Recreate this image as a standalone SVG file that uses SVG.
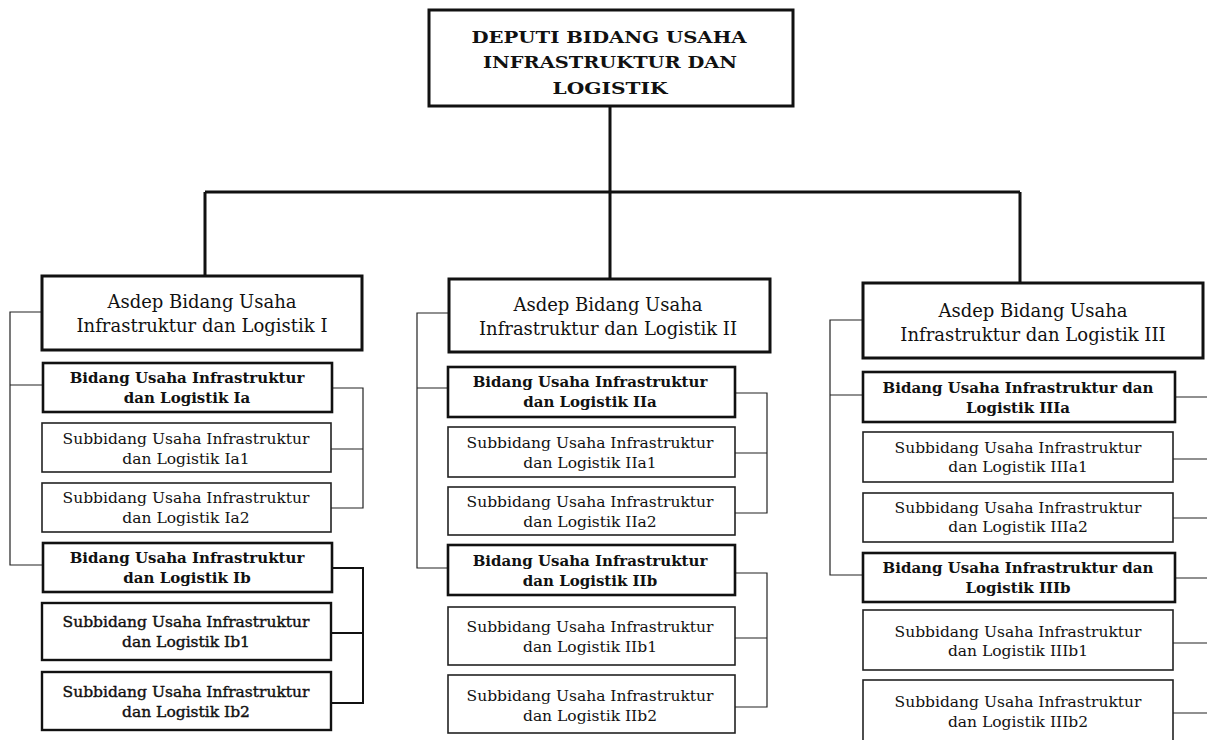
<svg xmlns="http://www.w3.org/2000/svg" width="1207" height="740" viewBox="0 0 1207 740">
<style>
.bg{fill:#fff}
.top{fill:#fff;stroke:#111;stroke-width:3}
.asd{fill:#fff;stroke:#111;stroke-width:3}
.bid{fill:#fff;stroke:#111;stroke-width:2.6}
.sub{fill:#fff;stroke:#222;stroke-width:1.6}
.subb{fill:#fff;stroke:#111;stroke-width:2.4}
text{font-family:"DejaVu Serif","Liberation Serif",serif;fill:#111;text-anchor:middle;dominant-baseline:central}
.t0{font-size:17px;font-weight:bold}
.ta{font-size:18px}
.tb{font-size:15px;font-weight:bold}
.ts{font-size:15.5px}
.tsd{font-size:15.5px;stroke:#111;stroke-width:0.4}
.main{fill:none;stroke:#111;stroke-width:3}
.thin{fill:none;stroke:#222;stroke-width:1.2}
.mid{fill:none;stroke:#111;stroke-width:2}
</style>
<rect class="bg" x="0" y="0" width="1207" height="740"/>
<g id="connectors">
<path class="main" d="M610 106 V192 M205 192 H1020 M205 192 V277 M610 192 V279 M1020 192 V284"/>
<path class="thin" d="M42 312 H10 V565 H43 M10 385 H43"/>
<path class="thin" d="M332 388 H363 V508 H331 M331 449 H363"/>
<path class="mid" d="M332 568 H363 V703 H331 M331 633 H363"/>
<path class="thin" d="M449 313 H417 V568 H448 M417 388 H448"/>
<path class="thin" d="M735 393 H767 V513 H735 M735 453 H767"/>
<path class="thin" d="M735 573 H767 V707 H735 M735 638 H767"/>
<path class="thin" d="M863 320 H830 V575 H863 M830 395 H863"/>
<path class="thin" d="M1175 397 H1207 M1173 459 H1207 M1173 518 H1207 M1175 578 H1207 M1173 643 H1207 M1173 713 H1207"/>
</g>
<g id="deputi">
<rect class="top" x="429" y="10" width="364" height="96"/>
<text class="t0" x="609" y="37" textLength="275" lengthAdjust="spacingAndGlyphs">DEPUTI BIDANG USAHA</text>
<text class="t0" x="610" y="62" textLength="254" lengthAdjust="spacingAndGlyphs">INFRASTRUKTUR DAN</text>
<text class="t0" x="610" y="88" textLength="115" lengthAdjust="spacingAndGlyphs">LOGISTIK</text>
</g>
<g id="asdep1">
<rect class="asd" x="42" y="276" width="320" height="74"/>
<text class="ta" x="202" y="301">Asdep Bidang Usaha</text>
<text class="ta" x="202" y="325">Infrastruktur dan Logistik I</text>
</g>
<g id="bidang1a">
<rect class="bid" x="43" y="363" width="289" height="49"/>
<text class="tb" x="187" y="378">Bidang Usaha Infrastruktur</text>
<text class="tb" x="187" y="398">dan Logistik Ia</text>
</g>
<g id="sub1a1">
<rect class="sub" x="42" y="423" width="289" height="49"/>
<text class="ts" x="186" y="439">Subbidang Usaha Infrastruktur</text>
<text class="ts" x="186" y="459">dan Logistik Ia1</text>
</g>
<g id="sub1a2">
<rect class="sub" x="42" y="483" width="289" height="49"/>
<text class="ts" x="186" y="498">Subbidang Usaha Infrastruktur</text>
<text class="ts" x="186" y="518">dan Logistik Ia2</text>
</g>
<g id="bidang1b">
<rect class="bid" x="43" y="543" width="289" height="49"/>
<text class="tb" x="187" y="558">Bidang Usaha Infrastruktur</text>
<text class="tb" x="187" y="578">dan Logistik Ib</text>
</g>
<g id="sub1b1">
<rect class="subb" x="42" y="603" width="289" height="57"/>
<text class="tsd" x="186" y="622">Subbidang Usaha Infrastruktur</text>
<text class="tsd" x="186" y="642">dan Logistik Ib1</text>
</g>
<g id="sub1b2">
<rect class="subb" x="42" y="672" width="289" height="58"/>
<text class="tsd" x="186" y="692">Subbidang Usaha Infrastruktur</text>
<text class="tsd" x="186" y="712">dan Logistik Ib2</text>
</g>
<g id="asdep2">
<rect class="asd" x="449" y="279" width="321" height="73"/>
<text class="ta" x="608" y="304">Asdep Bidang Usaha</text>
<text class="ta" x="608" y="328">Infrastruktur dan Logistik II</text>
</g>
<g id="bidang2a">
<rect class="bid" x="448" y="367" width="287" height="50"/>
<text class="tb" x="590" y="382">Bidang Usaha Infrastruktur</text>
<text class="tb" x="590" y="402">dan Logistik IIa</text>
</g>
<g id="sub2a1">
<rect class="sub" x="448" y="427" width="287" height="50"/>
<text class="ts" x="590" y="443">Subbidang Usaha Infrastruktur</text>
<text class="ts" x="590" y="463">dan Logistik IIa1</text>
</g>
<g id="sub2a2">
<rect class="sub" x="448" y="487" width="287" height="48"/>
<text class="ts" x="590" y="502">Subbidang Usaha Infrastruktur</text>
<text class="ts" x="590" y="522">dan Logistik IIa2</text>
</g>
<g id="bidang2b">
<rect class="bid" x="448" y="545" width="287" height="50"/>
<text class="tb" x="590" y="561">Bidang Usaha Infrastruktur</text>
<text class="tb" x="590" y="581">dan Logistik IIb</text>
</g>
<g id="sub2b1">
<rect class="sub" x="448" y="607" width="287" height="58"/>
<text class="ts" x="590" y="627">Subbidang Usaha Infrastruktur</text>
<text class="ts" x="590" y="647">dan Logistik IIb1</text>
</g>
<g id="sub2b2">
<rect class="sub" x="448" y="675" width="287" height="58"/>
<text class="ts" x="590" y="696">Subbidang Usaha Infrastruktur</text>
<text class="ts" x="590" y="716">dan Logistik IIb2</text>
</g>
<g id="asdep3">
<rect class="asd" x="863" y="283" width="340" height="75"/>
<text class="ta" x="1033" y="310">Asdep Bidang Usaha</text>
<text class="ta" x="1033" y="334">Infrastruktur dan Logistik III</text>
</g>
<g id="bidang3a">
<rect class="bid" x="863" y="372" width="312" height="50"/>
<text class="tb" x="1018" y="388">Bidang Usaha Infrastruktur dan</text>
<text class="tb" x="1018" y="408">Logistik IIIa</text>
</g>
<g id="sub3a1">
<rect class="sub" x="863" y="432" width="310" height="50"/>
<text class="ts" x="1018" y="448">Subbidang Usaha Infrastruktur</text>
<text class="ts" x="1018" y="467">dan Logistik IIIa1</text>
</g>
<g id="sub3a2">
<rect class="sub" x="863" y="493" width="310" height="49"/>
<text class="ts" x="1018" y="508">Subbidang Usaha Infrastruktur</text>
<text class="ts" x="1018" y="527">dan Logistik IIIa2</text>
</g>
<g id="bidang3b">
<rect class="bid" x="863" y="553" width="312" height="49"/>
<text class="tb" x="1018" y="568">Bidang Usaha Infrastruktur dan</text>
<text class="tb" x="1018" y="588">Logistik IIIb</text>
</g>
<g id="sub3b1">
<rect class="sub" x="863" y="610" width="310" height="60"/>
<text class="ts" x="1018" y="632">Subbidang Usaha Infrastruktur</text>
<text class="ts" x="1018" y="651">dan Logistik IIIb1</text>
</g>
<g id="sub3b2">
<rect class="sub" x="863" y="680" width="310" height="62"/>
<text class="ts" x="1018" y="702">Subbidang Usaha Infrastruktur</text>
<text class="ts" x="1018" y="722">dan Logistik IIIb2</text>
</g>
</svg>
